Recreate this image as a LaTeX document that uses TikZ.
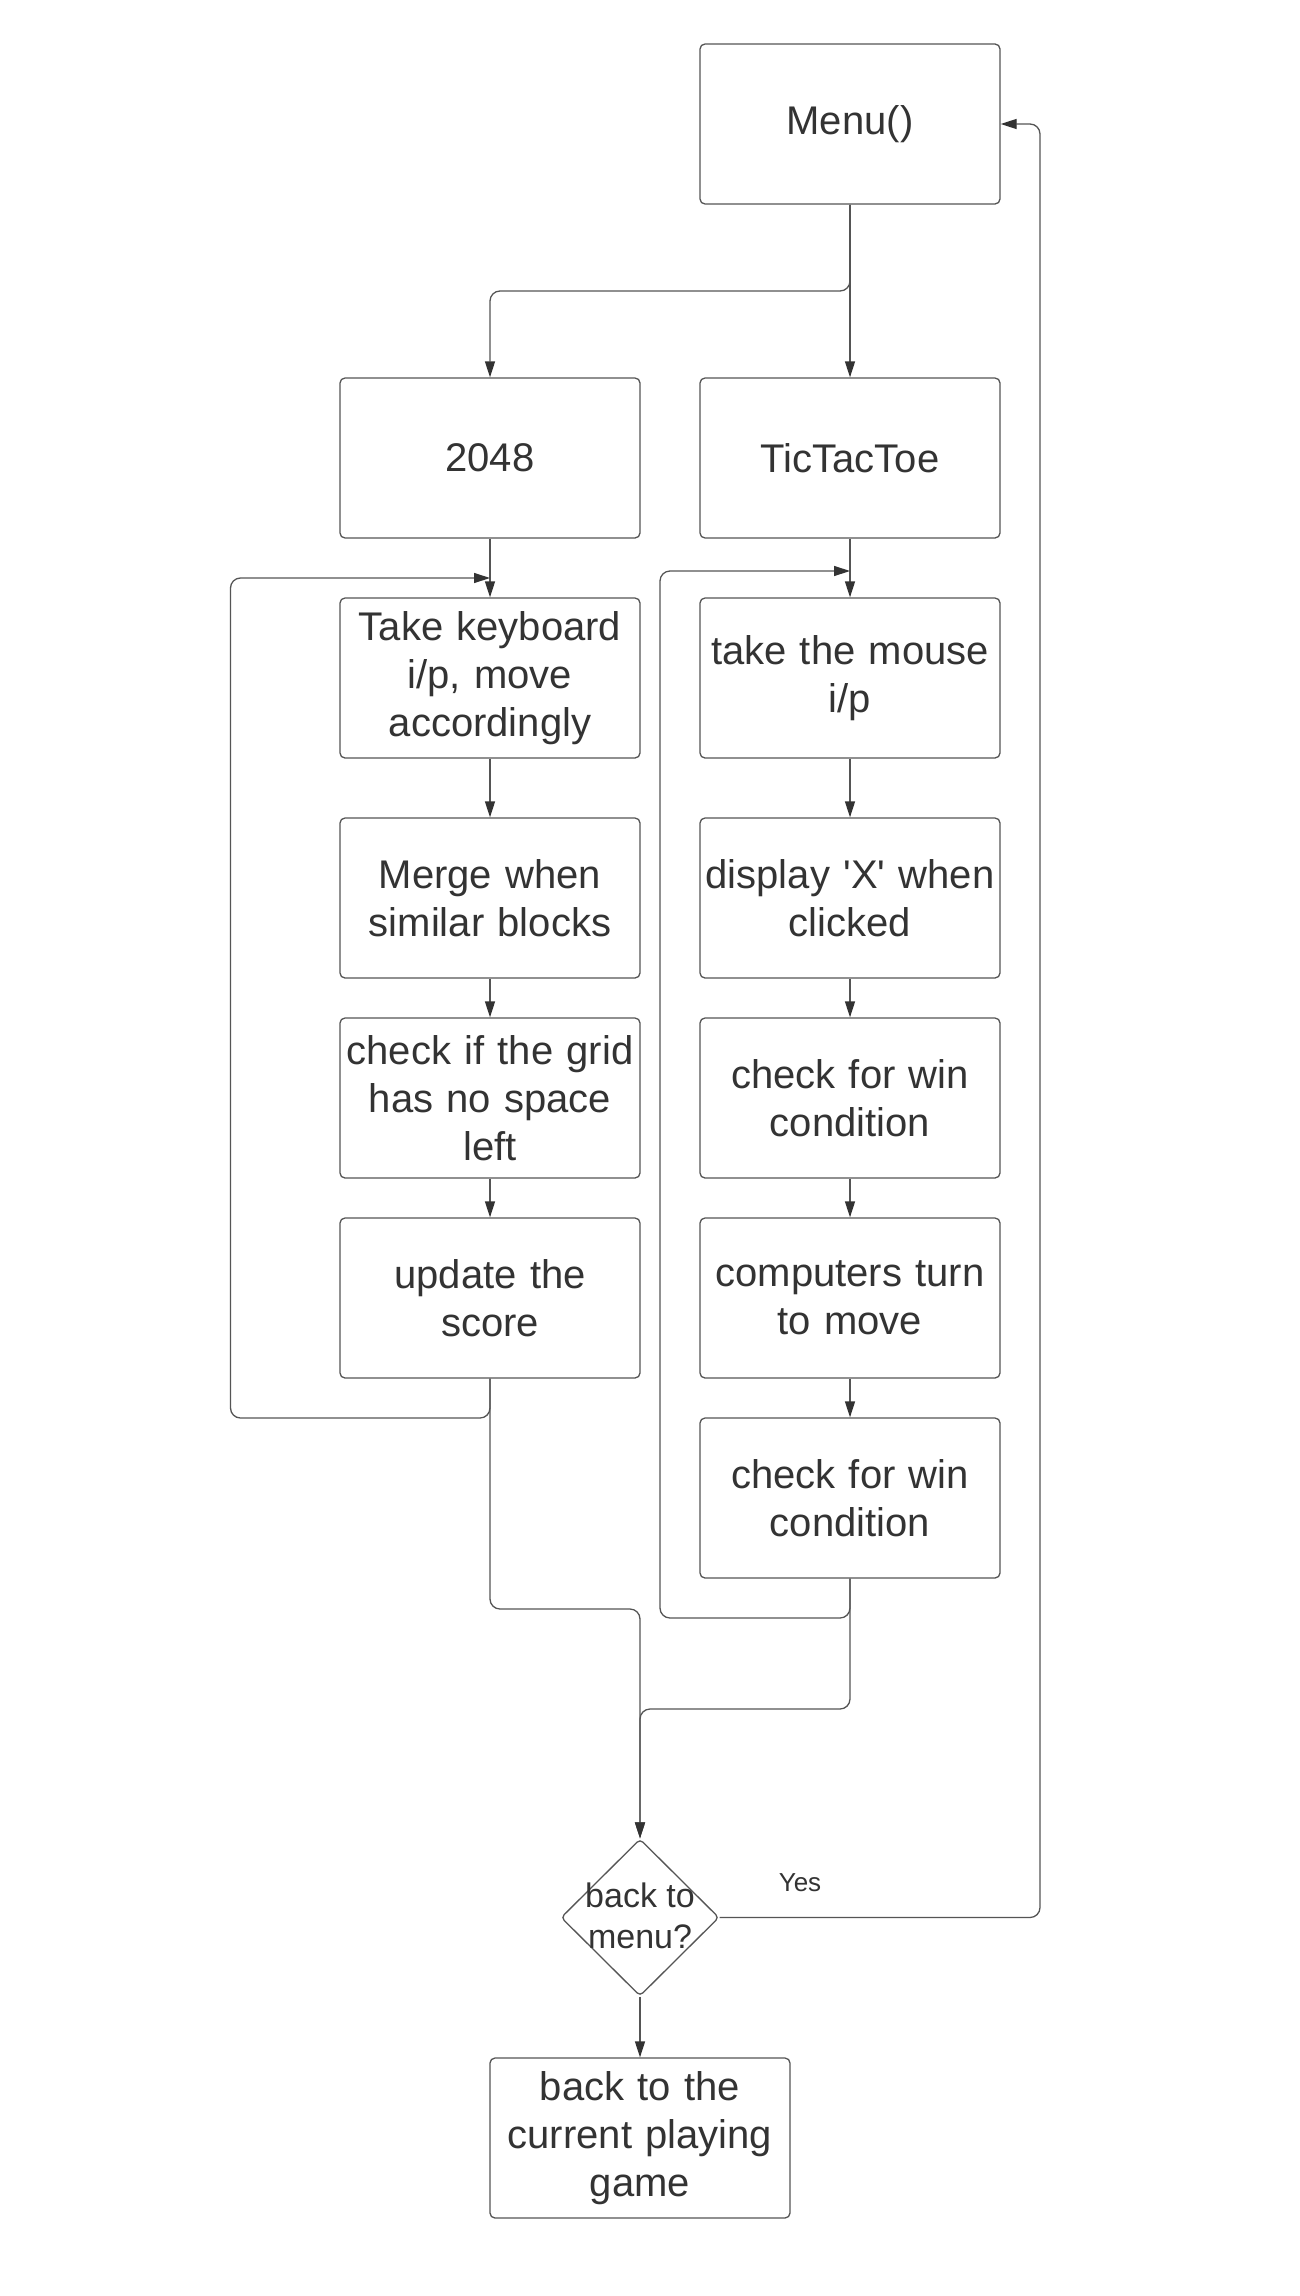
\documentclass[tikz,border=0pt]{standalone}
\usepackage{fontspec}
\setmainfont{Liberation Sans}[Ligatures=TeXOff]
\usetikzlibrary{arrows.meta,shapes.geometric}
\definecolor{ink}{HTML}{333333}
\definecolor{wire}{HTML}{555555}
\begin{document}
\begin{tikzpicture}[x=1pt,y=-1pt,
  box/.style={draw=wire, line width=1.3pt, rounded corners=5pt, minimum width=300pt, minimum height=160pt, text width=295pt, align=center, inner sep=0pt, font=\fontsize{40}{48}\selectfont, text=ink},
  link/.style={draw=wire, line width=1.3pt, rounded corners=10pt, -{Triangle[length=16pt,width=10pt,color=ink]}},
  decide/.style={diamond, draw=wire, line width=1.3pt, rounded corners=4pt, minimum width=158pt, minimum height=157pt, inner sep=0pt},
  dtext/.style={align=center, font=\fontsize{34}{41}\selectfont, text=ink, inner sep=0pt},
  lbl/.style={font=\fontsize{26}{31}\selectfont, text=ink, inner sep=0pt}]
\fill[white] (0,0) rectangle (1299,2296);
\useasboundingbox (0,0) rectangle (1299,2296);

\node[box] (menu) at (850,124) {Menu()};
\node[box] (g2048) at (490,458) {2048};
\node[box] (ttt) at (850,458) {TicTacToe};
\node[box] (key) at (490,678) {Take keyboard\\ i/p, move\\ accordingly};
\node[box] (merge) at (490,898) {Merge when\\ similar blocks};
\node[box] (grid) at (490,1098) {check if the grid\\ has no space\\ left};
\node[box] (score) at (490,1298) {update the\\ score};
\node[box] (mouse) at (850,678) {take the mouse\\ i/p};
\node[box] (disp) at (850,898) {display {\char39}X{\char39} when\\ clicked};
\node[box] (win1) at (850,1098) {check for win\\ condition};
\node[box] (comp) at (850,1298) {computers turn\\ to move};
\node[box] (win2) at (850,1498) {check for win\\ condition};
\node[decide] (ask) at (640,1917.5) {};
\node[dtext] (asktxt) at (640,1915.5) {back to\\ menu?};
\node[box] (back) at (640,2138) {back to the\\ current playing\\ game};
\node[lbl] (yes) at (800,1882.5) {Yes};

\coordinate (m2) at (490,291);
\coordinate (lA) at (230.5,1418);
\coordinate (lB) at (230.5,578);
\coordinate (lC) at (490,578);
\coordinate (rA) at (660,1618);
\coordinate (rB) at (660,571);
\coordinate (rC) at (850,571);
\coordinate (sA) at (640,1609);
\coordinate (wA) at (640,1709);
\coordinate (yA) at (1040,1917.5);
\coordinate (yB) at (1040,124);

\draw[link] (menu.south) -- (ttt.north);
\draw[link] (menu.south) |- (m2) -- (g2048.north);
\draw[link] (g2048.south) -- (key.north);
\draw[link] (key.south) -- (merge.north);
\draw[link] (merge.south) -- (grid.north);
\draw[link] (grid.south) -- (score.north);
\draw[link] (ttt.south) -- (mouse.north);
\draw[link] (mouse.south) -- (disp.north);
\draw[link] (disp.south) -- (win1.north);
\draw[link] (win1.south) -- (comp.north);
\draw[link] (comp.south) -- (win2.north);
\draw[link] (score.south) |- (lA) -- (lB) -- (lC);
\draw[link] (win2.south) |- (rA) -- (rB) -- (rC);
\draw[link] (score.south) |- (sA) -- (ask.north);
\draw[link] (win2.south) |- (wA) -- (ask.north);
\draw[link] (ask.east) -- (yA) -- (yB) -- (menu.east);
\draw[link] (ask.south) -- (back.north);
\end{tikzpicture}
\end{document}
